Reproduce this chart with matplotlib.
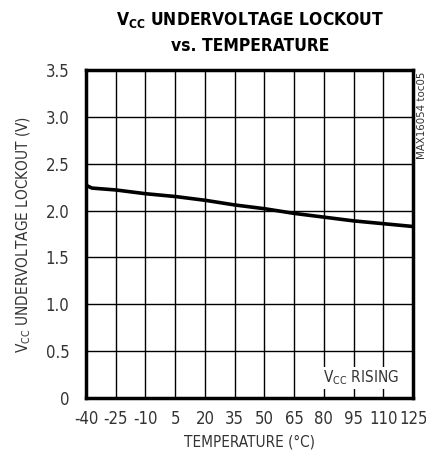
import numpy as np
import matplotlib
matplotlib.use('Agg')
import matplotlib.pyplot as plt

# Font setup (condensed sans like the datasheet)
plt.rcParams['font.family'] = ['DejaVu Sans']
plt.rcParams['font.stretch'] = 'condensed'
plt.rcParams['mathtext.default'] = 'regular'
plt.rcParams['axes.unicode_minus'] = False

# Data
temperature = [-40, -37, -25, -10, 5, 20, 35, 50, 65, 80, 95, 110, 125]
uvlo_voltage = [2.27, 2.24, 2.22, 2.18, 2.15, 2.11, 2.06, 2.02, 1.97, 1.93, 1.89, 1.86, 1.83]

# Axis ticks
x_ticks = [-40, -25, -10, 5, 20, 35, 50, 65, 80, 95, 110, 125]
y_ticks = [0, 0.5, 1.0, 1.5, 2.0, 2.5, 3.0, 3.5]
y_tick_labels = ['0', '0.5', '1.0', '1.5', '2.0', '2.5', '3.0', '3.5']

text_color = '#333333'

fig = plt.figure(figsize=(4.27, 4.59), dpi=100)
ax = fig.add_axes([0.2014, 0.1329, 0.766, 0.7146])

ax.plot(temperature, uvlo_voltage, color='black', linewidth=2.6, zorder=3)

ax.set_xlim(-40, 125)
ax.set_ylim(0, 3.5)
ax.set_xticks(x_ticks)
ax.set_yticks(y_ticks)
ax.set_yticklabels(y_tick_labels)
ax.tick_params(length=0, labelsize=12, colors=text_color)
ax.tick_params(axis='x', pad=9)
ax.tick_params(axis='y', pad=12)
ax.grid(True, color='black', linewidth=1.0)
ax.set_axisbelow(True)
for spine in ax.spines.values():
    spine.set_linewidth(2.5)

ax.set_xlabel('TEMPERATURE (°C)', fontsize=11, color=text_color, labelpad=4)
ax.set_ylabel('V$_{CC}$ UNDERVOLTAGE LOCKOUT (V)', fontsize=11, color=text_color, labelpad=9)

fig.text(0.585, 0.929, 'V$_{CC}$ UNDERVOLTAGE LOCKOUT\nvs. TEMPERATURE', ha='center', va='center',
         fontsize=12.5, fontweight='bold', color='black', linespacing=1.45)

ax.text(0.955, 0.061, 'V$_{CC}$ RISING', transform=ax.transAxes, ha='right', va='center',
        fontsize=11, color=text_color, zorder=4,
        bbox=dict(facecolor='white', edgecolor='none', pad=1))

fig.text(0.988, 0.749, 'MAX16054 toc05', rotation=90, ha='center', va='center',
         fontsize=8.2, color=text_color)

fig.savefig('out.png', dpi=100)
